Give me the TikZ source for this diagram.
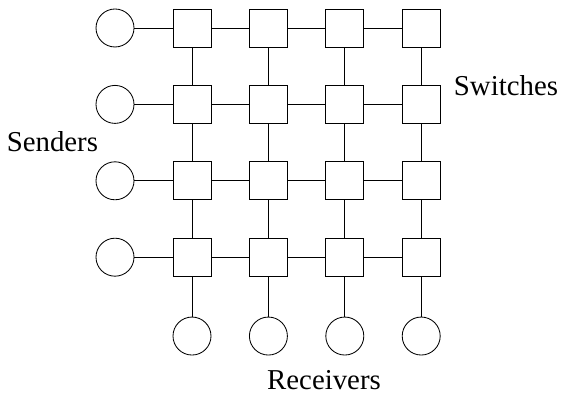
\documentclass[tikz,border=0pt]{standalone}
\usepackage{fontspec}
\setmainfont{Liberation Serif}
\usepackage{tikz}
\usetikzlibrary{positioning}

\begin{document}
\begin{tikzpicture}[
    switchbox/.style={draw, line width=0.6pt, minimum size=0.95cm, inner sep=0pt},
    hostnode/.style={draw, circle, line width=0.6pt, minimum size=0.95cm, inner sep=0pt},
    link/.style={line width=0.6pt},
    grouplabel/.style={font=\fontsize{20.5}{24}\selectfont},
]
\useasboundingbox (0,0) rectangle (14.2,-9.85);

% ── switches ──
\foreach \r in {1,...,4}
  \foreach \c in {1,...,4}
    \node[switchbox] (sw\r\c) at ({4.8+(\c-1)*1.91},{-0.7-(\r-1)*1.91}) {};

% ── senders and receivers ──
\foreach \r in {1,...,4}
  \node[hostnode] (snd\r) at ({2.875},{-0.7-(\r-1)*1.91}) {};
\foreach \c in {1,...,4}
  \node[hostnode, below=1.0cm of sw4\c] (rcv\c) {};

% ── links ──
\foreach \r in {1,...,4}{
  \draw[link] (snd\r) -- (sw\r1);
  \foreach \c/\n in {1/2,2/3,3/4}
    \draw[link] (sw\r\c) -- (sw\r\n);
}
\foreach \c in {1,...,4}{
  \foreach \r/\n in {1/2,2/3,3/4}
    \draw[link] (sw\r\c) -- (sw\n\c);
  \draw[link] (sw4\c) -- (rcv\c);
}

% ── labels ──
\node[grouplabel] (senders) at (1.31,-3.55) {Senders};
\node[grouplabel] (switches) at (12.65,-2.15) {Switches};
\node[grouplabel] (receivers) at (8.1,-9.5) {Receivers};

\end{tikzpicture}
\end{document}
